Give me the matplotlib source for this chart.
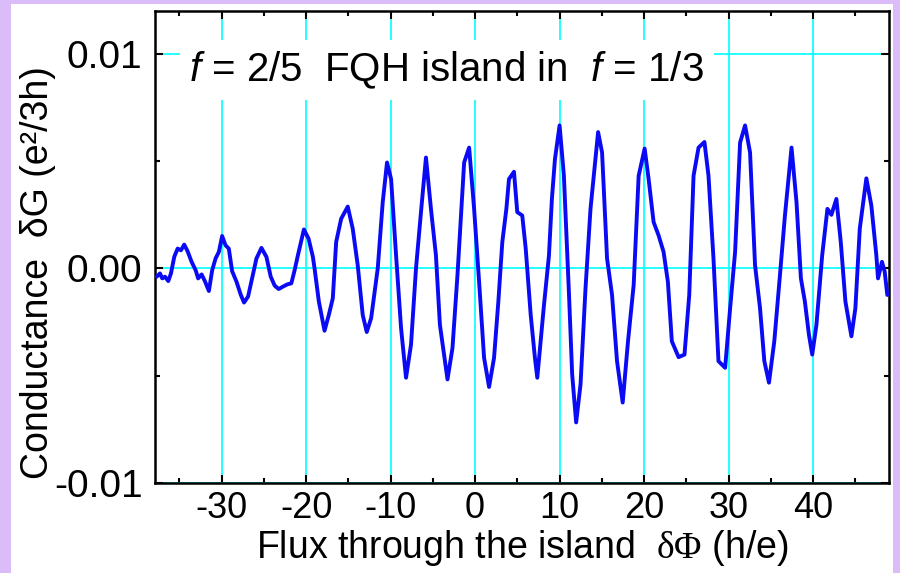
import matplotlib
matplotlib.use("Agg")
import matplotlib.pyplot as plt
from matplotlib.patches import Rectangle
from matplotlib.ticker import MultipleLocator, FormatStrFormatter

plt.rcParams["font.family"] = ["Liberation Sans", "DejaVu Sans"]
plt.rcParams["mathtext.fontset"] = "custom"
plt.rcParams["mathtext.rm"] = "Liberation Serif"
plt.rcParams["mathtext.it"] = "Liberation Sans:italic"
plt.rcParams["axes.unicode_minus"] = False

COLOR_BORDE = "#dabcf8"
COLOR_GRID = "#00ffff"
COLOR_CURVA = "#0a0af5"

# flujo (h/e) y conductancia (unidades de 1e-3 e^2/3h)
flujo = [
    -37.70, -37.31, -37.04, -36.72, -36.33, -36.01, -35.62, -35.22, -34.83, -34.44,
    -34.04, -33.57, -33.09, -32.79, -32.38, -32.00, -31.52, -31.13, -30.73, -30.34,
    -29.95, -29.55, -29.16, -28.77, -28.25, -27.74, -27.36, -26.88, -26.41, -25.89,
    -25.30, -24.71, -24.20, -23.73, -23.26, -22.75, -22.23, -21.76, -21.37, -20.98,
    -20.27, -19.72, -19.21, -19.01, -18.50, -17.83, -17.32, -16.85, -16.45, -15.86,
    -15.08, -14.49, -13.90, -13.31, -12.83, -12.31, -11.53, -10.94, -10.43, -9.95,
    -9.36, -8.77, -8.18, -7.59, -7.00, -6.41, -5.82, -5.23, -4.64, -4.17,
    -3.27, -2.68, -2.09, -1.30, -0.71, -0.12, 0.47, 1.06, 1.65, 2.24,
    2.75, 3.22, 3.70, 4.01, 4.60, 4.99, 5.58, 5.99, 6.58, 7.08,
    7.36, 8.15, 8.74, 9.09, 9.45, 10.00, 10.51, 11.10, 11.49, 11.96,
    12.48, 13.07, 13.66, 14.05, 14.56, 15.03, 15.62, 16.21, 16.80, 17.47,
    18.10, 18.77, 19.36, 20.07, 20.54, 21.13, 21.72, 22.31, 22.82, 23.29,
    24.09, 24.79, 25.35, 25.86, 26.45, 27.15, 27.63, 28.22, 28.81, 29.60,
    30.19, 30.78, 31.37, 31.96, 32.55, 33.14, 33.73, 34.24, 34.79, 35.42,
    36.09, 36.68, 37.46, 38.05, 38.57, 39.04, 39.52, 39.91, 40.41, 41.09,
    41.71, 42.18, 42.77, 43.29, 43.84, 44.55, 45.02, 45.54, 46.32, 46.91,
    47.50, 47.70, 48.17, 48.49, 48.80,
]
conductancia = [
    -0.384, -0.231, -0.463, -0.384, -0.588, -0.231, 0.542, 0.926, 0.847, 1.111,
    0.801, 0.310, -0.079, -0.463, -0.278, -0.588, -1.051, -0.079, 0.463, 0.773,
    1.514, 1.079, 0.926, -0.125, -0.616, -1.236, -1.588, -1.310, -0.463, 0.463,
    0.958, 0.542, -0.384, -0.801, -0.958, -0.847, -0.741, -0.694, -0.079, 0.616,
    1.819, 1.389, 0.542, 0.000, -1.542, -2.903, -2.162, -1.389, 1.236, 2.315,
    2.884, 1.852, 0.153, -2.162, -2.963, -2.315, 0.000, 3.088, 4.940, 4.167,
    0.616, -2.778, -5.093, -3.551, 0.000, 2.625, 5.171, 2.778, 0.616, -2.625,
    -5.171, -3.704, -0.310, 4.940, 5.634, 2.778, -0.616, -4.167, -5.523, -4.167,
    -1.542, 1.236, 2.778, 4.167, 4.505, 2.625, 2.468, 0.926, -2.162, -4.167,
    -5.093, -1.713, 0.602, 3.241, 5.093, 6.667, 4.319, -1.079, -4.940, -7.176,
    -5.403, -0.926, 2.778, 4.319, 6.356, 5.403, 0.463, -1.236, -4.319, -6.250,
    -3.394, -0.773, 4.319, 5.588, 4.167, 2.162, 1.542, 0.773, -0.616, -3.394,
    -4.134, -4.014, -1.236, 4.319, 5.634, 5.894, 4.319, 0.463, -4.319, -4.630,
    -1.852, 0.773, 5.866, 6.667, 5.403, 0.153, -1.852, -4.319, -5.324, -3.394,
    -0.310, 2.468, 5.634, 3.088, -0.463, -1.542, -3.088, -4.014, -2.625, 0.616,
    2.778, 2.500, 3.241, 1.236, -1.542, -3.162, -1.852, 1.852, 4.199, 2.931,
    0.616, -0.463, 0.310, -0.153, -1.236,
]
dG = [v * 1e-3 for v in conductancia]

fig = plt.figure(figsize=(9, 5.73), dpi=100)
fig.patch.set_facecolor(COLOR_BORDE)
# panel blanco detras del grafico
panel = Rectangle((11 / 900, 0), 882 / 900, 569 / 573,
                  transform=fig.transFigure, facecolor="white",
                  edgecolor="none", zorder=-10)
fig.add_artist(panel)

ax = fig.add_axes([155 / 900, 1 - 483 / 573, 734 / 900, 472 / 573])
ax.set_facecolor("white")

ax.plot(flujo, dG, color=COLOR_CURVA, lw=2.8, zorder=3,
        solid_joinstyle="round", solid_capstyle="round")

ax.set_xlim(-37.9, 49.0)
ax.set_ylim(-0.0100, 0.0120)

ax.xaxis.set_major_locator(MultipleLocator(10))
ax.xaxis.set_minor_locator(MultipleLocator(5))
ax.yaxis.set_major_locator(MultipleLocator(0.01))
ax.yaxis.set_minor_locator(MultipleLocator(0.005))
ax.yaxis.set_major_formatter(FormatStrFormatter("%.2f"))
ax.xaxis.set_major_formatter(FormatStrFormatter("%d"))

ax.grid(True, which="major", color=COLOR_GRID, lw=1.2, zorder=1)
ax.set_axisbelow(True)

ax.tick_params(which="both", direction="in", top=True, right=True,
               width=1.5, color="black")
ax.tick_params(axis="y", pad=9, labelsize=28)
ax.tick_params(axis="x", pad=6, labelsize=26)
ax.tick_params(which="major", length=6)
ax.tick_params(which="minor", length=3.5)
for s in ax.spines.values():
    s.set_linewidth(1.8)

ax.set_xlabel(r"Flux through the island  $\mathrm{\delta\Phi}$ (h/e)",
              fontsize=27, labelpad=1)
ax.set_ylabel("Conductance  δG (e²/3h)", fontsize=27)
ax.yaxis.set_label_coords(-0.135, 0.445)

ax.text(0.047, 0.875, r"$f$ = 2/5  FQH island in  $f$ = 1/3",
        transform=ax.transAxes, fontsize=29, ha="left", va="center",
        bbox=dict(facecolor="white", edgecolor="none", pad=7), zorder=2)

fig.savefig("out.png", dpi=100, facecolor=fig.get_facecolor())
